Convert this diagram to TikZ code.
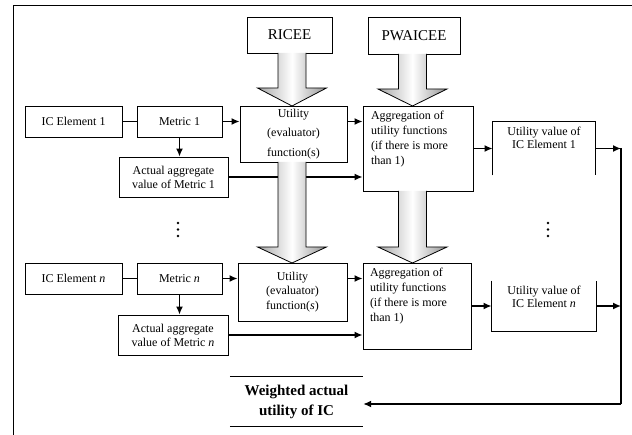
\documentclass[tikz,border=0pt]{standalone}
\usepackage{fontspec}
\setmainfont{Liberation Serif}
\usepackage{tikz}
\usetikzlibrary{arrows.meta}
\begin{document}
\begin{tikzpicture}[x=1pt,y=-1pt]
            \tikzset{
            ic box/.style={draw,line width=0.8pt,inner sep=0pt,align=center,minimum height=31pt,font=\fontsize{12}{13.5}\selectfont},
            ic line/.style={line width=1.5pt},
            ic link/.style={ic line,-{Latex[length=8pt,width=7pt]}},
            ic big/.style={draw,line width=0.8pt,left color=gray!70,right color=gray!85,middle color=white}
            }
            \useasboundingbox (0,0) rectangle (632,435);
            \draw[line width=0.8pt] (13,435) -- (13,5) -- (632,5);

            \node[ic box,minimum width=85pt,minimum height=36pt,font=\fontsize{15}{18}\selectfont] (ricee) at (289.5,35) {RICEE};
            \node[ic box,minimum width=92pt,minimum height=37pt,font=\fontsize{15}{18}\selectfont] (pwa) at (414,35.5) {PWAICEE};

            \node[ic box,minimum width=97pt] (ice1) at (73.5,121.5) {IC Element 1};
            \node[ic box,minimum width=85pt] (met1) at (179.5,121.5) {Metric 1};
            \node[ic box,minimum width=109pt,minimum height=40pt,font=\fontsize{12}{14}\selectfont] (act1) at (173.5,177) {Actual aggregate\\value of Metric 1};
            \node[ic box,minimum width=107pt,minimum height=56pt,font=\fontsize{12}{19.5}\selectfont] (util1) at (293.5,134) {Utility\\(evaluator)\\function(s)};
            \node[ic box,inner xsep=8pt,inner ysep=5pt,font=\fontsize{12}{15}\selectfont] (agg1) at (418,148.5) {\parbox[c][75pt][t]{94pt}{\raggedright Aggregation of\\utility functions\\(if there is more\\than 1)}};
            \node[ic box,draw=none] (uv1) at (544,148.5) {\parbox[c][53pt][t]{102pt}{\centering\vspace{5pt}Utility value of\\IC Element 1}};

            \node[ic box,minimum width=97pt] (icen) at (73.5,278.5) {IC Element \textit{n}};
            \node[ic box,minimum width=85pt] (metn) at (179.5,278.5) {Metric \textit{n}};
            \node[ic box,minimum width=110pt,minimum height=40pt,font=\fontsize{12}{14}\selectfont] (actn) at (173,335) {Actual aggregate\\value of Metric \textit{n}};
            \node[ic box,minimum width=109pt,minimum height=58pt,font=\fontsize{12}{14.5}\selectfont] (utiln) at (292.5,292) {Utility\\(evaluator)\\function(\textit{s})};
            \node[ic box,inner xsep=7pt,inner ysep=5pt,font=\fontsize{12}{15}\selectfont] (aggn) at (417,306) {\parbox[c][76pt][t]{94pt}{\raggedright Aggregation of\\utility functions\\(if there is more\\than 1)}};
            \node[ic box,draw=none] (uvn) at (544,306) {\parbox[c][50pt][t]{104pt}{\centering\vspace{5pt}Utility value of\\IC Element \textit{n}}};

            \node[inner sep=0pt,minimum width=133pt,minimum height=49pt,align=center,font=\fontsize{15}{20}\selectfont\bfseries] (wtd) at (296.5,401.5) {Weighted actual\\utility of IC};

            % open boxes
            \draw[line width=0.8pt] (uv1.south west) -- (uv1.north west) -- (uv1.north east) -- (uv1.south east);
            \draw[line width=0.8pt] (uvn.north west) -- (uvn.south west) -- (uvn.south east) -- (uvn.north east);
            \draw[line width=0.8pt] (wtd.north west) -- (wtd.north east) (wtd.south west) -- (wtd.south east);

            % vertical dots
            \foreach \dx in {178,548}
            \foreach \dy in {223,229.5,236}
            \fill (\dx,\dy) circle (1.3pt);

            \coordinate (rt) at (621,148.5);
            \coordinate (rb) at (621,404);

            \path[ic line]
            (ice1) edge (met1)
            (icen) edge (metn)
            (rt) edge (rb)
            ;

            \path[ic link]
            (met1) edge (met1 -| util1.west)
            (met1) edge (met1 |- act1.north)
            (util1.east |- met1) edge (agg1.west |- met1)
            (act1) edge (act1 -| agg1.west)
            (agg1) edge (uv1)
            (uv1) edge (rt)
            (metn) edge (metn -| utiln.west)
            (metn) edge (metn |- actn.north)
            (utiln.east |- metn) edge (aggn.west |- metn)
            (actn) edge (actn -| aggn.west)
            (aggn) edge (uvn)
            (uvn) edge (uvn -| rt)
            (rb) edge (rb -| wtd.east)
            ;

            % big arrows
            \foreach \cx/\ty/\by/\tipy in {292/53/88/106, 412.5/54/89/106, 292/162/247/263, 412.5/191/247/263}
            \path[ic big] (\cx-14,\ty) -- (\cx-14,\by) -- (\cx-34.5,\by) -- (\cx,\tipy) -- (\cx+34.5,\by) -- (\cx+14,\by) -- (\cx+14,\ty);
        \end{tikzpicture}
\end{document}
